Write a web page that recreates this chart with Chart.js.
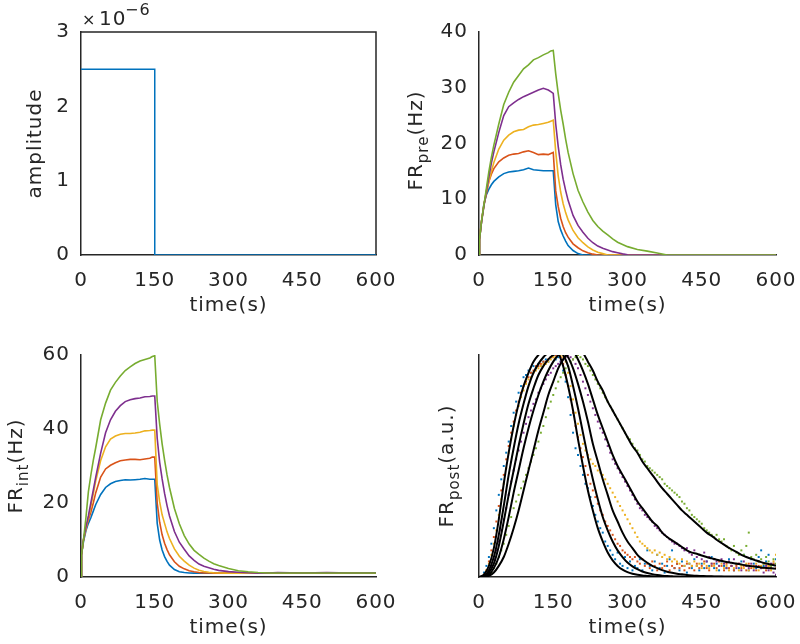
<!DOCTYPE html>
<html><head><meta charset="utf-8">
<script src="https://cdn.jsdelivr.net/npm/chart.js@4.4.1/dist/chart.umd.min.js"></script>
<style>
html,body{margin:0;padding:0;background:#fff;}
body{width:800px;height:644px;position:relative;overflow:hidden;}
canvas{position:absolute;}
</style></head>
<body>
<canvas id="cAmp" width="400" height="322" style="left:0;top:0"></canvas>
<canvas id="cPre" width="400" height="322" style="left:400px;top:0"></canvas>
<canvas id="cInt" width="400" height="322" style="left:0;top:322px"></canvas>
<canvas id="cPost" width="400" height="322" style="left:400px;top:322px"></canvas>
<script>
// ---------------- data ----------------
const timeTicks = [0, 150, 300, 450, 600];
const ampTicks = [0, 1e-6, 2e-6, 3e-6];
const preTicks = [0, 10, 20, 30, 40];
const intTicks = [0, 20, 40, 60];

const ampTime = [0, 150, 150, 600];
const ampValue = [2.5e-6, 2.5e-6, 0, 0];

const preTime = [0,1,5,10,15,20,25,30,40,50,60,70,80,90,100,110,120,130,140,145,150,155,160,165,170,175,180,190,200,210,220,230,240,250,260,270,280,290,300,320,340,360,380,400,450,500,550,600];
const preBlue = [0,2.8,6,9.2,10.8,11.8,12.6,13.2, 14,14.6,14.9,15,15.1,15.3,15.6,15.3,15.2,15.1,15.1, 15.1,15.1, 9,6,4.5,3.4,2.5,1.7, 0.8,0.25,0,0,0,0,0,0,0,0,0,0, 0,0,0,0,0, 0,0,0,0];
const preRed = [0,2.8,6,9,11,13.2,14.5,15.5, 16.7,17.4,17.9,18.1,18.2,18.5,18.7,18.4,18.0,18.1,18.0, 18.2,18.4, 11.5,8.7,6.6,5.1,4.0,3.2, 2.0,1.3,0.75,0.4,0.15,0,0,0,0,0,0,0, 0,0,0,0,0, 0,0,0,0];
const preYellow = [0,2.8,6,9,11.5,13.2,15,16.6, 19,20.6,21.5,22.1,22.4,22.5,23,23.3,23.4,23.6,23.8, 24,24.2, 18.5,14.2,11.3,9.2,7.6,6.3, 4.4,3.1,2.2,1.45,0.9,0.5,0.25,0,0,0,0,0, 0,0,0,0,0, 0,0,0,0];
const prePurple = [0,2.8,5.8,8.8,11.5,14,16.5,18.5, 22,25,26.6,27.3,27.9,28.4,28.8,29.2,29.6,29.9,29.6, 29.3,29, 23.5,19.5,16.2,13.6,11.6,9.8, 7.1,5.3,4.1,3,2.2,1.6,1.2,0.9,0.6,0.4,0.2,0.05, 0,0,0,0,0, 0,0,0,0];
const preGreen = [0,2.8,6,9,12,15,17.5,19.7, 23.5,27,29.2,31,32.2,33.4,34.1,35,35.4,35.9,36.3, 36.6,36.7, 32.5,29,26,23.5,20.8,18.4, 14.6,11.6,9.5,7.7,6.2,5.1,4.3,3.6,2.9,2.3,1.9,1.5, 1.0,0.7,0.35,0,0, 0,0,0,0];

const intTime = [0,1,5,10,15,20,25,30,40,50,60,70,80,90,100,110,120,130,140,145,150,155,160,165,170,175,180,190,200,210,220,230,240,250,260,270,280,300,320,340,360,380,400,450,500,550,600];
const intBlue = [0,6,9.5,12.5,14.5,16,17.8,19.6, 22.3,24.2,25.2,25.8,26.1,26.3,26.2,26.3,26.4,26.6,26.4, 26.4,26.4, 14.5,10,7.3,5.5,4.2,3.2, 2.0,1.4,1.2,1.1,1.05,1.1,1.05,1.1,1.05,1.1, 1.05,1.1,1.05,1.1,1.05,1.1, 1.05,1.1,1.05,1.1];
const intRed = [0,6,10,13,15.5,17.5,20,22.8, 27,29.2,30.2,30.9,31.4,31.6,31.8,31.8,31.7,31.9,32.1, 32.4,32.4, 20,14.8,11.4,9.1,7.4,6.0, 4.1,2.9,2.2,1.7,1.4,1.2,1.1,1.15,1.05,1.1, 1.05,1.1,1.05,1.1,1.1,1.05, 1.1,1.05,1.1,1.1];
const intYellow = [0,6,10,13,16,19,22.5,26, 31.5,35.2,37.3,38.1,38.6,38.8,38.8,38.9,39.1,39.5,39.6, 39.7,39.7, 25,20.3,16.8,14.5,12.2,10.4, 7.6,5.6,4.3,3.2,2.4,1.85,1.5,1.3,1.15,1.1, 1.05,1.1,1.05,1.1,1.05,1.1, 1.05,1.1,1.05,1.1];
const intPurple = [0,6,10,13.5,16.5,20,23.5,27, 33.5,39,42.5,44.8,46.3,47.4,47.9,48.2,48.4,48.7,48.8, 48.9,48.9, 37.5,31,26.5,22.6,19.3,16.5, 12.3,9.4,7.5,5.7,4.5,3.5,2.9,2.5,2.1,1.8, 1.45,1.3,1.15,1.05,1.1,1.2, 1.1,1.2,1.1,1.15];
const intGreen = [0,6,10,16,23,27.5,31.5,35, 42.5,47,50.5,52.6,54.3,55.8,56.8,57.7,58.4,58.8,59.2, 59.6,59.8, 47.5,41.3,36,31.6,27.6,24.2, 18.5,14.4,11.2,8.9,7.2,6.1,5.1,4.3,3.6,3.1, 2.3,1.7,1.4,1.2,1.1,1.1, 1.1,1.1,1.1,1.1];

const postTime = [5,10,15,20,25,30,35,40,45,50,55,60,65,70,75,80,85,90,95,100,
105,110,115,120,125,130,135,140,145,150,155,160,165,170,175,180,185,190,195,200,
205,210,215,220,225,230,235,240,245,250,255,260,265,270,275,280,285,290,295,300,
305,310,315,320,325,330,335,340,345,350,355,360,365,370,375,380,385,390,395,400,
405,410,415,420,425,430,435,440,445,450,455,460,465,470,475,480,485,490,495,500,
505,510,515,520,525,530,535,540,545,550,555,560,565,570,575,580,585,590,595,600];
const postBlue = [0.0,0.02,0.05,0.09,0.15,0.22,0.3,0.37,0.44,0.5,0.56,0.61,0.68,0.74,0.79,0.83,0.86,0.9,0.91,0.93,
0.92,0.95,0.94,0.96,0.95,0.97,0.98,0.97,0.99,1.0,0.98,0.99,0.97,0.93,0.88,0.81,0.73,0.65,0.58,0.55,
0.5,0.46,0.42,0.4,0.36,0.32,0.28,0.25,0.22,0.2,0.16,0.14,0.12,0.1,0.08,0.11,0.06,0.05,0.09,0.04,
0.07,0.03,0.05,0.04,0.08,0.03,0.06,0.12,0.05,0.03,0.07,0.1,0.04,0.06,0.02,0.05,0.08,0.12,0.04,0.06,
0.03,0.07,0.05,0.02,0.06,0.04,0.08,0.05,0.03,0.06,0.04,0.07,0.05,0.09,0.04,0.06,0.03,0.07,0.05,0.04,
0.08,0.05,0.03,0.06,0.04,0.07,0.1,0.05,0.03,0.08,0.06,0.04,0.09,0.12,0.05,0.07,0.1,0.04,0.06,0.08];
const postRed = [0,0.01,0.03,0.07,0.12,0.18,0.25,0.32,0.39,0.46,0.53,0.59,0.65,0.7,0.75,0.79,0.83,0.86,0.88,0.9,
0.92,0.93,0.95,0.95,0.96,0.97,0.97,0.98,0.99,0.99,1.0,1.0,0.99,0.96,0.91,0.86,0.8,0.74,0.68,0.63,
0.58,0.54,0.5,0.46,0.42,0.39,0.36,0.33,0.3,0.28,0.25,0.23,0.21,0.19,0.17,0.15,0.14,0.12,0.11,0.1,
0.09,0.08,0.09,0.07,0.06,0.08,0.05,0.06,0.04,0.07,0.05,0.03,0.06,0.04,0.05,0.07,0.03,0.05,0.04,0.06,
0.04,0.05,0.03,0.06,0.04,0.05,0.03,0.06,0.04,0.05,0.07,0.04,0.03,0.05,0.06,0.04,0.07,0.05,0.03,0.06,
0.04,0.05,0.03,0.05,0.06,0.04,0.05,0.03,0.06,0.04,0.05,0.03,0.05,0.04,0.06,0.03,0.05,0.04,0.06,0.04];
const postYellow = [0,0.01,0.03,0.06,0.1,0.15,0.21,0.28,0.35,0.42,0.49,0.56,0.62,0.68,0.73,0.77,0.81,0.84,0.87,0.89,
0.9,0.92,0.93,0.94,0.95,0.96,0.96,0.97,0.98,0.99,0.99,1.0,1.0,0.99,0.97,0.92,0.86,0.8,0.74,0.69,
0.64,0.6,0.57,0.55,0.53,0.51,0.5,0.48,0.47,0.46,0.44,0.42,0.4,0.38,0.36,0.34,0.32,0.3,0.28,0.26,
0.24,0.22,0.2,0.18,0.16,0.15,0.14,0.13,0.12,0.11,0.12,0.1,0.11,0.09,0.1,0.08,0.09,0.07,0.08,0.07,
0.06,0.08,0.05,0.07,0.06,0.05,0.07,0.05,0.06,0.04,0.06,0.05,0.04,0.06,0.05,0.03,0.05,0.06,0.04,0.05,
0.03,0.05,0.04,0.06,0.03,0.05,0.04,0.06,0.03,0.05,0.04,0.06,0.03,0.05,0.04,0.06,0.05,0.03,0.07,0.1];
const postPurple = [0,0,0.01,0.03,0.05,0.08,0.12,0.16,0.21,0.26,0.31,0.37,0.43,0.48,0.53,0.57,0.61,0.65,0.69,0.72,
0.75,0.78,0.8,0.83,0.85,0.87,0.89,0.91,0.92,0.94,0.95,0.96,0.97,0.98,0.99,1.0,0.99,0.98,0.96,0.94,
0.91,0.88,0.85,0.82,0.79,0.76,0.73,0.7,0.67,0.65,0.62,0.59,0.56,0.53,0.51,0.49,0.47,0.45,0.43,0.41,
0.39,0.37,0.35,0.33,0.31,0.3,0.28,0.27,0.26,0.25,0.23,0.22,0.21,0.2,0.19,0.18,0.17,0.16,0.15,0.15,
0.14,0.13,0.12,0.13,0.11,0.1,0.12,0.09,0.1,0.08,0.11,0.07,0.09,0.06,0.08,0.07,0.05,0.08,0.06,0.04,
0.07,0.05,0.08,0.04,0.06,0.03,0.07,0.05,0.04,0.06,0.03,0.05,0.07,0.04,0.02,0.05,0.03,0.06,0.02,0.01];
const postGreen = [0,0,0,0.01,0.02,0.04,0.06,0.09,0.12,0.15,0.19,0.23,0.27,0.31,0.34,0.37,0.4,0.43,0.46,0.49,
0.52,0.55,0.58,0.61,0.65,0.68,0.72,0.76,0.79,0.82,0.85,0.88,0.9,0.92,0.94,0.95,0.97,0.98,0.99,1.0,
0.99,0.98,0.96,0.95,0.93,0.91,0.89,0.87,0.85,0.83,0.81,0.79,0.77,0.75,0.73,0.71,0.69,0.67,0.65,0.63,
0.62,0.6,0.58,0.57,0.55,0.53,0.52,0.5,0.49,0.48,0.47,0.46,0.45,0.44,0.42,0.41,0.4,0.39,0.38,0.37,
0.36,0.34,0.33,0.31,0.3,0.28,0.27,0.26,0.25,0.24,0.22,0.21,0.2,0.19,0.18,0.19,0.17,0.16,0.17,0.14,
0.13,0.12,0.14,0.11,0.1,0.12,0.1,0.14,0.2,0.09,0.08,0.1,0.07,0.08,0.06,0.09,0.07,0.05,0.08,0.06];

const fitTime = [0,10,20,30,40,50,60,70,80,90,100,110,120,130,140,150,160,170,180,190,200,210,220,230,240,250,260,270,280,290,
300,310,320,330,340,350,360,370,380,390,400,410,420,430,440,450,460,470,480,490,500,510,520,530,540,550,560,570,580,590,600];
const fitBlue = [0,0.01,0.05,0.13,0.26,0.42,0.56,0.68,0.78,0.86, 0.92,0.97,1.0,1.02,1.03,1.03,1.01,0.95,0.86,0.75,
0.62,0.5,0.39,0.3,0.22,0.16,0.11,0.075,0.05,0.033, 0.022,0.015,0.01,0.007,0.005,0.003,0.002,0.001,0,0,
0,0,0,0,0,0,0,0,0,0, 0,0,0,0,0,0,0,0,0,0, 0];
const fitRed = [0,0.005,0.03,0.09,0.19,0.32,0.46,0.58,0.69,0.78, 0.86,0.92,0.96,0.99,1.01,1.02,1.02,1.0,0.95,0.86,
0.76,0.65,0.54,0.44,0.35,0.27,0.21,0.16,0.12,0.09, 0.065,0.048,0.035,0.025,0.018,0.013,0.009,0.006,0.004,0.003,
0.002,0.002,0.001,0.001,0.001,0.001,0.001,0.001,0.001,0.001, 0,0,0,0,0,0,0,0,0,0, 0];
const fitYellow = [0,0.003,0.02,0.06,0.14,0.25,0.37,0.48,0.59,0.69, 0.78,0.85,0.91,0.95,0.98,1.0,1.01,1.01,0.99,0.94,
0.87,0.79,0.7,0.6,0.52,0.44,0.37,0.3,0.25,0.2, 0.16,0.13,0.1,0.08,0.064,0.05,0.04,0.031,0.024,0.019,
0.015,0.012,0.009,0.007,0.0055,0.0045,0.0035,0.003,0.0025,0.002, 0.002,0.002,0.002,0.002,0.002,0.002,0.002,0.002,0.002,0.002, 0.002];
const fitPurple = [0,0.001,0.01,0.04,0.09,0.17,0.27,0.38,0.48,0.58, 0.67,0.75,0.82,0.88,0.93,0.97,1.0,1.02,1.03,1.02,
0.98,0.93,0.87,0.8,0.73,0.67,0.61,0.55,0.5,0.46, 0.42,0.38,0.34,0.31,0.28,0.25,0.23,0.2,0.18,0.165,
0.15,0.135,0.12,0.11,0.105,0.097,0.09,0.084,0.078,0.073, 0.068,0.064,0.06,0.056,0.052,0.049,0.046,0.043,0.041,0.039, 0.037];
const fitGreen = [0,0,0.005,0.02,0.05,0.09,0.15,0.22,0.3,0.39, 0.48,0.57,0.66,0.74,0.82,0.88,0.94,0.98,1.01,1.03,
1.03,1.01,0.97,0.93,0.88,0.84,0.79,0.75,0.71,0.67, 0.63,0.59,0.56,0.52,0.49,0.46,0.43,0.4,0.375,0.35,
0.325,0.3,0.28,0.26,0.24,0.22,0.2,0.185,0.168,0.153, 0.138,0.125,0.113,0.1,0.09,0.082,0.074,0.067,0.061,0.056, 0.051];

// ---------------- styling ----------------
const AX = '#262626';
const FONT = '"DejaVu Sans", sans-serif';
const FS = 20;
const SUB = 15;
const SPACING = '1px';
const COL = { blue:'#0072BD', red:'#D95319', yellow:'#EDB120', purple:'#7E2F8E', green:'#77AC30' };

Chart.defaults.font.family = FONT;
Chart.defaults.font.size = FS;
Chart.defaults.color = AX;
Chart.defaults.animation = false;
Chart.defaults.events = [];
Chart.defaults.plugins.legend.display = false;
Chart.defaults.plugins.tooltip.enabled = false;

const spacingPlugin = {
  id: 'spacing',
  beforeUpdate(c){ c.ctx.letterSpacing = SPACING; },
  beforeLayout(c){ c.ctx.letterSpacing = SPACING; },
  beforeDraw(c){ c.ctx.letterSpacing = SPACING; }
};

function pts(xs, ys){ return xs.map((x,i)=>({x:x, y:ys[i]})); }

function xScale(){
  return {
    type:'linear', min:0, max:600,
    afterBuildTicks: s => { s.ticks = timeTicks.map(v => ({value:v})); },
    afterFit: s => { s.height = 67; s.paddingLeft = 0; s.paddingRight = 0; },
    grid:{ display:false, drawTicks:false },
    border:{ display:true, color:AX, width:1.5 },
    ticks:{ padding:14, color:AX, maxRotation:0, autoSkip:false, font:{size:FS} },
    title:{ display:true, text:'time(s)', color:AX, font:{size:FS}, padding:{top:0, bottom:4} }
  };
}
function yScale(tickVals, min, max, width, fmt, show){
  return {
    type:'linear', min:min, max:max,
    afterBuildTicks: s => { s.ticks = tickVals.map(v => ({value:v})); },
    afterFit: s => { s.width = width; s.paddingTop = 0; s.paddingBottom = 0; },
    grid:{ display:false, drawTicks:false },
    border:{ display:true, color:AX, width:1.5 },
    ticks:{ display:show, padding:11, color:AX, font:{size:FS}, callback: fmt }
  };
}

function yLabel(parts, offset, shift){
  return {
    id:'ylabel',
    afterDraw(chart){
      const ctx = chart.ctx, a = chart.chartArea;
      ctx.save();
      ctx.letterSpacing = SPACING;
      ctx.fillStyle = AX;
      ctx.textBaseline = 'alphabetic';
      ctx.textAlign = 'left';
      let total = 0;
      parts.forEach(p => { ctx.font = p.size + 'px ' + FONT; p.w = ctx.measureText(p.text).width; total += p.w; });
      ctx.translate(a.left - offset, (a.top + a.bottom)/2 + shift);
      ctx.rotate(-Math.PI/2);
      let x = -total/2;
      parts.forEach(p => { ctx.font = p.size + 'px ' + FONT; ctx.fillText(p.text, x, p.dy || 0); x += p.w; });
      ctx.restore();
    }
  };
}

const boxPlugin = {
  id:'box',
  beforeDatasetsDraw(chart){
    const ctx = chart.ctx, a = chart.chartArea;
    ctx.save();
    ctx.strokeStyle = AX; ctx.lineWidth = 1.5;
    ctx.beginPath();
    ctx.moveTo(a.left, a.top); ctx.lineTo(a.right, a.top); ctx.lineTo(a.right, a.bottom);
    ctx.stroke();
    ctx.restore();
  }
};
const expPlugin = {
  id:'exp',
  afterDraw(chart){
    const ctx = chart.ctx;
    ctx.save();
    ctx.letterSpacing = SPACING;
    ctx.fillStyle = AX;
    ctx.textBaseline = 'alphabetic';
    ctx.textAlign = 'left';
    ctx.font = '16px ' + FONT; ctx.fillText('\u00d7', 82, 25);
    ctx.font = FS + 'px ' + FONT; ctx.fillText('10', 99, 25);
    ctx.font = '16px ' + FONT; ctx.fillText('\u22126', 125, 15);
    ctx.restore();
  }
};

function lineDs(xs, ys, color, order, width){
  return { data: pts(xs, ys), borderColor: color, backgroundColor: color, borderWidth: width || 1.6,
           pointRadius: 0, tension: 0, order: order };
}
function dotDs(xs, ys, color, order){
  return { data: pts(xs, ys), showLine:false, borderColor: color, backgroundColor: color, borderWidth: 0,
           pointStyle:'rect', pointRadius: 1.4, order: order };
}

function baseOpts(padTop, yOpts){
  return {
    responsive:false, maintainAspectRatio:false, devicePixelRatio:1,
    layout:{ padding:{ left:0, right:24, top:padTop, bottom:0 } },
    scales:{ x: xScale(), y: yOpts }
  };
}

// ---- amplitude ----
new Chart(document.getElementById('cAmp'), {
  type:'line',
  data:{ datasets:[ lineDs(ampTime, ampValue, COL.blue, 0, 1.5) ] },
  options: baseOpts(32, yScale(ampTicks, 0, 3e-6, 81, v => String(Math.round(v/1e-6)), true)),
  plugins:[ spacingPlugin, boxPlugin, expPlugin, yLabel([{text:'amplitude', size:FS}], 40, 0) ]
});

// ---- FR pre ----
new Chart(document.getElementById('cPre'), {
  type:'line',
  data:{ datasets:[
    lineDs(preTime, preBlue, COL.blue, 5),
    lineDs(preTime, preRed, COL.red, 4),
    lineDs(preTime, preYellow, COL.yellow, 3),
    lineDs(preTime, prePurple, COL.purple, 2),
    lineDs(preTime, preGreen, COL.green, 1)
  ]},
  options: baseOpts(32, yScale(preTicks, 0, 40, 79, v => String(v), true)),
  plugins:[ spacingPlugin, yLabel([{text:'FR', size:FS},{text:'pre', size:SUB, dy:6},{text:'(Hz)', size:FS}], 57, -3) ]
});

// ---- FR int ----
new Chart(document.getElementById('cInt'), {
  type:'line',
  data:{ datasets:[
    lineDs(intTime, intBlue, COL.blue, 5),
    lineDs(intTime, intRed, COL.red, 4),
    lineDs(intTime, intYellow, COL.yellow, 3),
    lineDs(intTime, intPurple, COL.purple, 2),
    lineDs(intTime, intGreen, COL.green, 1)
  ]},
  options: baseOpts(33, yScale(intTicks, 0, 60, 81, v => String(v), true)),
  plugins:[ spacingPlugin, yLabel([{text:'FR', size:FS},{text:'int', size:SUB, dy:6},{text:'(Hz)', size:FS}], 59, 0) ]
});

// ---- FR post ----
new Chart(document.getElementById('cPost'), {
  type:'line',
  data:{ datasets:[
    dotDs(postTime, postBlue, COL.blue, 10),
    dotDs(postTime, postRed, COL.red, 9),
    dotDs(postTime, postYellow, COL.yellow, 8),
    dotDs(postTime, postPurple, COL.purple, 7),
    dotDs(postTime, postGreen, COL.green, 6),
    Object.assign(lineDs(fitTime, fitBlue, '#000', 1, 2), {cubicInterpolationMode:'monotone'}),
    Object.assign(lineDs(fitTime, fitRed, '#000', 1, 2), {cubicInterpolationMode:'monotone'}),
    Object.assign(lineDs(fitTime, fitYellow, '#000', 1, 2), {cubicInterpolationMode:'monotone'}),
    Object.assign(lineDs(fitTime, fitPurple, '#000', 1, 2), {cubicInterpolationMode:'monotone'}),
    Object.assign(lineDs(fitTime, fitGreen, '#000', 1, 2), {cubicInterpolationMode:'monotone'})
  ]},
  options: baseOpts(33, yScale([], 0, 1, 79, v => '', false)),
  plugins:[ spacingPlugin, yLabel([{text:'FR', size:FS},{text:'post', size:SUB, dy:6},{text:'(a.u.)', size:FS}], 26, 0) ]
});
</script>
</body></html>
